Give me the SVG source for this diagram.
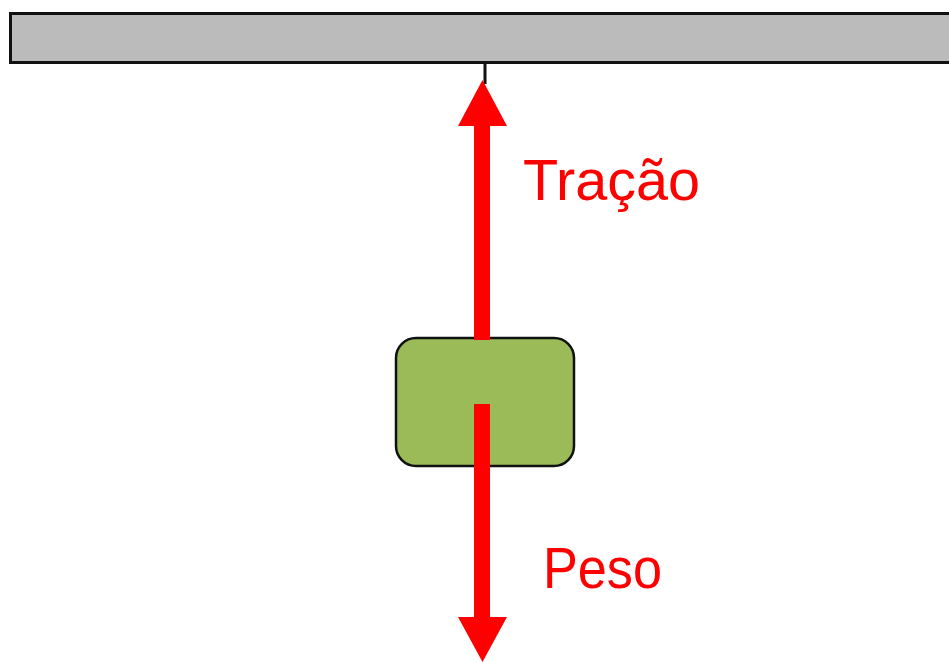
<svg xmlns="http://www.w3.org/2000/svg" width="949" height="662" viewBox="0 0 949 662">
<style>
.lbl{font-family:"Liberation Sans",Arial,sans-serif;font-size:57px;fill:#ff0000}
.force{fill:#ff0000}
</style>
<rect width="949" height="662" fill="#ffffff"/>
<g id="ceiling">
<rect x="10.5" y="13.5" width="945" height="49" fill="#bbbbbb" stroke="#111111" stroke-width="3"/>
</g>
<g id="block">
<rect x="396" y="338" width="178" height="128" rx="20" ry="20" fill="#9bbb59" stroke="#111111" stroke-width="2.5"/>
</g>
<g id="connectors">
<line x1="485" y1="63" x2="485" y2="84" stroke="#111111" stroke-width="3"/>
<g id="tension-arrow">
<rect class="force" x="474" y="124" width="16" height="216"/>
<polygon class="force" points="482.5,80 458,126 507,126"/>
</g>
<g id="weight-arrow">
<rect class="force" x="474" y="404" width="16" height="216"/>
<polygon class="force" points="458,617 507,617 482.5,662"/>
</g>
</g>
<text class="lbl" x="523" y="200" textLength="177" lengthAdjust="spacingAndGlyphs">Tração</text>
<text class="lbl" x="543" y="588" textLength="119" lengthAdjust="spacingAndGlyphs">Peso</text>
</svg>
